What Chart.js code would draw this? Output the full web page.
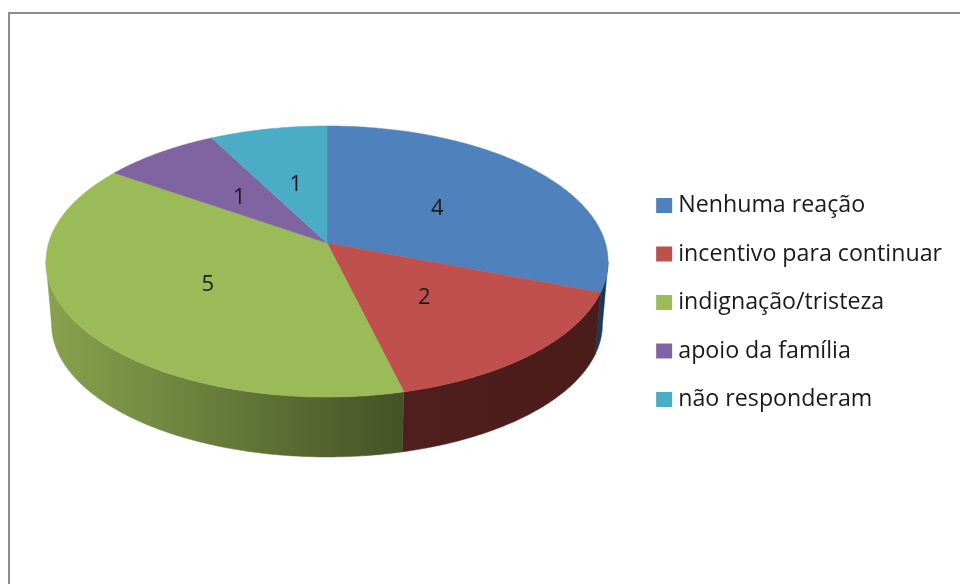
<!DOCTYPE html>
<html lang="pt">
<head>
<meta charset="UTF-8">
<title>Reações</title>
<script src="https://cdn.jsdelivr.net/npm/chart.js"></script>
<style>
  html, body { margin: 0; padding: 0; background: #fff; overflow: hidden; }
  #wrap { position: relative; width: 960px; height: 584px; }
</style>
</head>
<body>
<div id="wrap"><canvas id="pie" width="960" height="584"></canvas></div>
<script>
const categories = ['Nenhuma reação', 'incentivo para continuar', 'indignação/tristeza', 'apoio da família', 'não responderam'];
const values = [4, 2, 5, 1, 1];
const topColors = ['#4f81bd', '#c0504d', '#9bbb59', '#8064a2', '#4bacc6'];
// side wall gradient, left to right
const wallColors = [['#1b3a5e', '#16304d'], ['#501f1d', '#4a1c1a'], ['#88a34e', '#445226'], ['#4c3c61', '#4c3c61'], ['#2d6676', '#2d6676']];

// perspective of the disc: turns a point of the unit circle into a screen position
const CX = 327, CY = 243, RX = 278.4, RY = 133, PERSP = 0.1365;
const DEPTH = 63, BOTTOM_SCALE = 0.98;
function project(u, v, bottom) {
  const d = 1 - PERSP * v;
  const k = bottom ? BOTTOM_SCALE : 1;
  return { x: CX + RX * k * u / d, y: CY + (bottom ? DEPTH : 0) + RY * k * v / d };
}
// chart.js angles: 0 is to the right, growing clockwise
function onRim(a, bottom) { return project(Math.cos(a), Math.sin(a), bottom); }

function rimPath(ctx, a0, a1, bottom, start) {
  const steps = Math.max(2, Math.ceil(Math.abs(a1 - a0) / 0.01));
  for (let i = 0; i <= steps; i++) {
    const p = onRim(a0 + (a1 - a0) * i / steps, bottom);
    if (i === 0 && start) ctx.moveTo(p.x, p.y); else ctx.lineTo(p.x, p.y);
  }
}

const pie3d = {
  id: 'pie3d',
  beforeDraw(chart) {
    const ctx = chart.ctx;
    ctx.save();
    ctx.strokeStyle = '#8c8c8c';
    ctx.lineWidth = 2;
    ctx.beginPath();
    ctx.moveTo(9, 584);
    ctx.lineTo(9, 13);
    ctx.lineTo(960, 13);
    ctx.stroke();
    ctx.restore();
  },
  beforeDatasetsDraw(chart) {
    const ctx = chart.ctx;
    const arcs = chart.getDatasetMeta(0).data;
    // front facing part of the rim
    const tilt = Math.asin(PERSP);
    const wallFrom = tilt, wallTo = Math.PI - tilt;
    ctx.save();
    arcs.forEach((arc, i) => {
      const a0 = Math.max(arc.startAngle, wallFrom), a1 = Math.min(arc.endAngle, wallTo);
      if (a1 <= a0) return;
      const pA = onRim(a0, false), pB = onRim(a1, false);
      const g = ctx.createLinearGradient(Math.min(pA.x, pB.x), 0, Math.max(pA.x, pB.x), 0);
      g.addColorStop(0, wallColors[i][0]);
      g.addColorStop(1, wallColors[i][1]);
      ctx.fillStyle = g;
      ctx.strokeStyle = g;
      ctx.lineWidth = 0.5;
      ctx.beginPath();
      rimPath(ctx, a0, a1, false, true);
      rimPath(ctx, a1, a0, true, false);
      ctx.closePath();
      ctx.fill();
      ctx.stroke();
    });
    arcs.forEach((arc, i) => {
      ctx.fillStyle = topColors[i];
      ctx.strokeStyle = topColors[i];
      ctx.lineWidth = 0.5;
      ctx.beginPath();
      ctx.moveTo(CX, CY);
      rimPath(ctx, arc.startAngle, arc.endAngle, false, false);
      ctx.closePath();
      ctx.fill();
      ctx.stroke();
    });
    ctx.fillStyle = '#1a1a1a';
    ctx.font = '22px "Open Sans"';
    ctx.textAlign = 'center';
    ctx.textBaseline = 'middle';
    arcs.forEach((arc, i) => {
      const mid = (arc.startAngle + arc.endAngle) / 2;
      const p = project(0.5 * Math.cos(mid), 0.5 * Math.sin(mid), false);
      ctx.fillText(String(values[i]), p.x, p.y + 2);
    });
    ctx.restore();
    return false; // arcs already painted on the tilted disc
  }
};

new Chart(document.getElementById('pie'), {
  type: 'pie',
  data: {
    labels: categories,
    datasets: [{ data: values, backgroundColor: topColors, borderWidth: 0 }]
  },
  options: {
    responsive: false,
    animation: false,
    layout: { padding: { top: 21, right: 8 } },
    plugins: {
      tooltip: { enabled: false },
      legend: {
        position: 'right',
        labels: {
          // small box with a thick border: keeps the text close to the swatch
          boxWidth: 5,
          boxHeight: 4,
          padding: 25.25,
          color: '#1a1a1a',
          font: { family: 'Open Sans', size: 23.2 },
          generateLabels(chart) {
            return Chart.overrides.pie.plugins.legend.labels.generateLabels(chart).map((item, i) => {
              item.strokeStyle = topColors[i];
              item.lineWidth = 11;
              return item;
            });
          }
        }
      }
    }
  },
  plugins: [pie3d]
});
</script>
</body>
</html>
